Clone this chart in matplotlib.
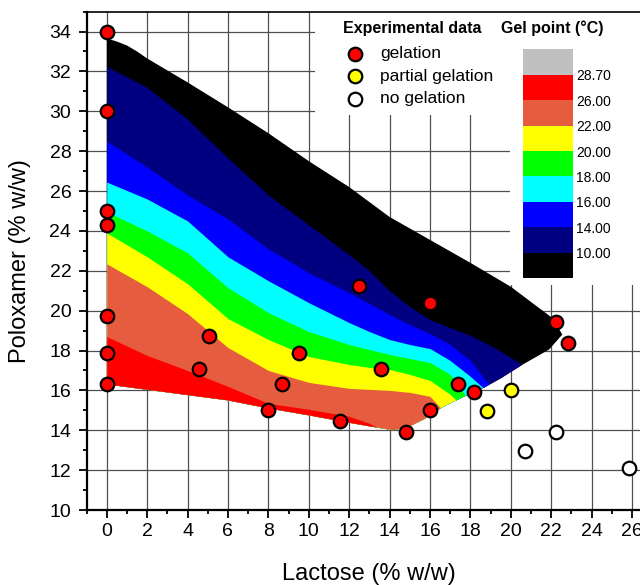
import numpy as np
import matplotlib
matplotlib.use('Agg')
import matplotlib as mpl
import matplotlib.pyplot as plt
from matplotlib.patches import Polygon, Rectangle
from matplotlib.colors import ListedColormap, BoundaryNorm

plt.rcParams['font.family'] = ['Liberation Sans', 'DejaVu Sans']

# experimental data: lactose (% w/w) vs poloxamer (% w/w)
gel_x = [0, 0, 0, 0, 0, 0, 0, 4.55, 5.05, 8.0, 8.7, 9.5, 11.55, 12.5, 13.6, 14.8,
         16.0, 16.0, 17.4, 18.2, 22.25, 22.85]
gel_y = [34.0, 30.0, 25.0, 24.3, 19.75, 17.85, 16.3, 17.05, 18.75, 15.0, 16.3, 17.85,
         14.45, 21.25, 17.05, 13.9, 20.4, 15.0, 16.3, 15.9, 19.45, 18.4]
partial_x = [18.8, 20.0]
partial_y = [14.95, 16.0]
none_x = [20.7, 22.25, 25.85]
none_y = [12.95, 13.9, 12.1]

# outline of the mapped (gelling) area
area_x = [0, 0, 0.5, 1, 1.5, 2, 4, 6, 8, 10, 12, 14, 16, 18, 20, 22.1, 22.55,
          21.9, 20.6, 19.5, 18.7, 17.5, 16.6, 15.7, 15.0, 14.2,
          13, 11.6, 10, 8, 6, 3]
area_y = [16.3, 33.65, 33.5, 33.3, 33.0, 32.65, 31.45, 30.2, 28.9, 27.5, 26.2, 24.7,
          23.55, 22.4, 21.2, 19.6, 18.8,
          18.05, 17.3, 16.6, 16.15, 15.6, 15.15, 14.55, 14.2, 14.0,
          14.2, 14.45, 14.75, 15.1, 15.5, 15.9]

# gel point iso-lines (poloxamer value at each lactose value)
iso_x = [0, 2, 4, 6, 8, 10, 12, 13, 14, 15, 16, 17, 18, 19, 20, 21, 22, 23]
iso_10 = [32.25, 31.2, 29.6, 27.65, 25.8, 24.3, 22.8, 22.0, 21.0, 20.2, 19.55, 19.15, 18.75, 18.25, 17.65, 17.0, 16.3, 15.6]
iso_14 = [28.5, 27.2, 25.8, 24.6, 23.1, 21.9, 20.9, 20.35, 19.8, 19.3, 18.85, 18.3, 17.5, 16.2, 15.2, 14.2, 13.2, 12.2]
iso_16 = [26.45, 25.6, 24.5, 22.7, 21.5, 20.4, 19.4, 18.95, 18.55, 18.3, 18.1, 17.5, 16.7, 15.8, 14.8, 13.8, 12.8, 11.8]
iso_18 = [24.95, 24.0, 22.9, 21.15, 19.9, 18.95, 18.3, 18.05, 17.8, 17.6, 17.4, 16.8, 15.4, 14.2, 13.2, 12.2, 11.2, 10.2]
iso_20 = [23.9, 22.7, 21.35, 19.6, 18.55, 17.7, 17.3, 17.15, 17.05, 16.8, 16.5, 15.8, 14.8, 13.8, 12.8, 11.8, 10.8, 9.8]
iso_22 = [22.35, 21.2, 19.85, 18.15, 17.0, 16.4, 16.1, 16.05, 16.0, 15.9, 15.7, 14.6, 13.5, 12.5, 11.5, 10.5, 9.5, 9.0]
iso_26 = [18.7, 17.75, 17.0, 16.2, 15.35, 15.05, 14.7, 14.35, 13.8, 13.4, 13.0, 12.5, 12.0, 11.5, 11.0, 10.5, 10.0, 9.5]
isolines = [iso_10, iso_14, iso_16, iso_18, iso_20, iso_22, iso_26]

levels = [10.00, 14.00, 16.00, 18.00, 20.00, 22.00, 26.00, 28.70]
band_colors = ['#000000', '#000080', '#0000ff', '#00ffff', '#00ff00',
               '#ffff00', '#e65c3f', '#ff0000', '#c0c0c0']

fig = plt.figure(figsize=(6.4, 5.85), dpi=100)
ax = fig.add_axes([0.1352, 0.1282, 0.8838, 0.852])

# white areas behind the keys
ax.add_patch(Rectangle((0.492, 0.803), 0.51, 0.18, transform=fig.transFigure,
                       facecolor='white', edgecolor='none', zorder=1))
ax.add_patch(Rectangle((0.797, 0.513), 0.21, 0.47, transform=fig.transFigure,
                       facecolor='white', edgecolor='none', zorder=1))

area = Polygon(np.column_stack([area_x, area_y]), closed=True,
               facecolor=band_colors[0], edgecolor='none', zorder=2)
ax.add_patch(area)
for iso, col in zip(isolines, band_colors[1:8]):
    f = ax.fill_between(iso_x, 9, iso, color=col, lw=0, zorder=2)
    f.set_clip_path(area)

mk = dict(s=95, edgecolors='black', linewidths=1.6, zorder=5, clip_on=False)
ax.scatter(gel_x, gel_y, c='#ff0000', label='gelation', **mk)
ax.scatter(partial_x, partial_y, c='#ffff00', label='partial gelation', **mk)
ax.scatter(none_x, none_y, c='white', label='no gelation', **mk)

ax.set_xlim(-1, 27)
ax.set_ylim(10, 35)
ax.set_xticks(np.arange(0, 27, 2))
ax.set_yticks(np.arange(10, 35, 2))
ax.set_xticks(np.arange(-1, 28, 1), minor=True)
ax.set_yticks(np.arange(11, 36, 1), minor=True)
ax.set_axisbelow(True)
ax.grid(True, which='major', color='#505050', lw=0.9)
ax.tick_params(which='major', direction='out', length=6, width=1.3, labelsize=14)
ax.tick_params(axis='y', which='major', pad=5)
ax.tick_params(axis='x', which='major', pad=3)
ax.tick_params(which='minor', direction='out', length=3, width=1.3)
for s in ['left', 'bottom']:
    ax.spines[s].set_linewidth(1.6)
ax.spines['top'].set_linewidth(1.2)
ax.spines['right'].set_visible(False)
ax.set_xlabel('Lactose (% w/w)', fontsize=17, labelpad=17)
ax.set_ylabel('Poloxamer (% w/w)', fontsize=17, labelpad=13)

fig.text(343 / 640, 1 - 28 / 585, 'Experimental data', fontsize=11.5, fontweight='bold',
         ha='left', va='center')
leg = ax.legend(loc='upper left', bbox_to_anchor=(343 / 640, 1 - 46 / 585),
                bbox_transform=fig.transFigure, frameon=False, fontsize=12.5,
                handlelength=1.4, handletextpad=0.75, labelspacing=0.43,
                borderpad=0, borderaxespad=0)

fig.text(501 / 640, 1 - 28 / 585, 'Gel point (°C)', fontsize=11.5, fontweight='bold',
         ha='left', va='center')

cax = fig.add_axes([0.8167, 0.5243, 0.079, 0.3915])
cmap = ListedColormap(band_colors)
norm = BoundaryNorm(np.arange(len(band_colors) + 1), len(band_colors))
cb = mpl.colorbar.ColorbarBase(cax, cmap=cmap, norm=norm, ticks=np.arange(1, len(levels) + 1))
cb.set_ticklabels(['%.2f' % v for v in levels])
cb.outline.set_visible(False)
cax.minorticks_off()
cax.tick_params(which='both', length=0, labelsize=10, pad=2)

fig.savefig('out.png', dpi=100)
